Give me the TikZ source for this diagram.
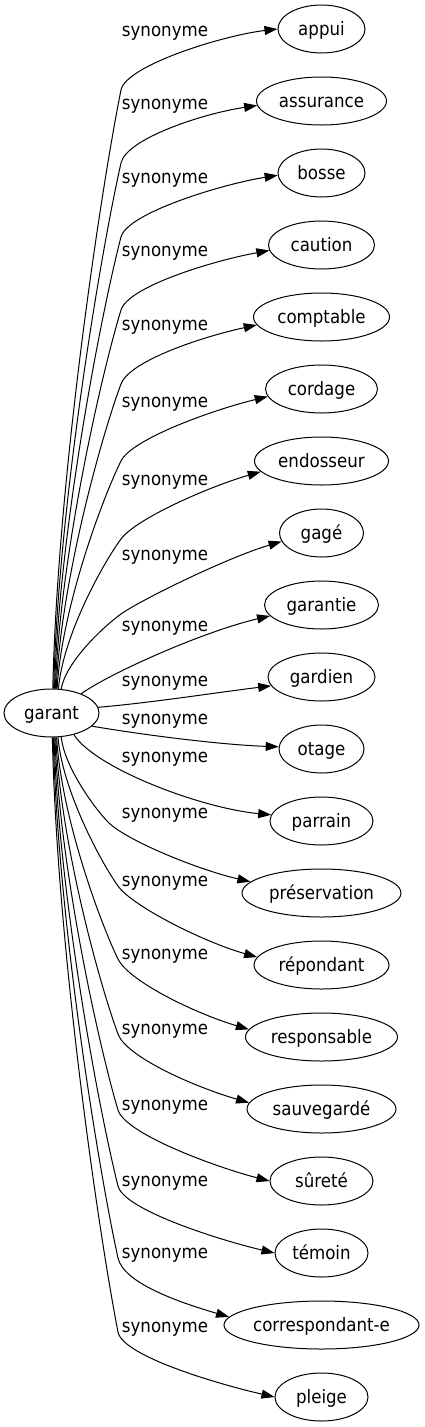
\documentclass[tikz,border=0pt]{standalone}
\usepackage{fontspec}
\setmainfont{DejaVu Sans}[FakeStretch=0.9]
\usetikzlibrary{arrows.meta,calc,shapes.geometric}
\begin{document}
\begin{tikzpicture}[x=1pt,y=1pt,
  every node/.style={font=\fontsize{18.5}{22}\selectfont},
  word/.style={draw=black, line width=1pt, ellipse, minimum height=48, inner sep=0pt, text height=14pt, text depth=2pt},
  lbl/.style={anchor=base, inner sep=0pt},
  edge/.style={draw=black, line width=1pt, -{Triangle[length=13pt,width=9pt]}}
]
\useasboundingbox[fill=white] (0,0) rectangle (424,-1427);
\node[word, minimum width=95] (garant) at (51.5,-713) {garant};
\foreach \nm/\tx/\w [count=\i from 0] in {
  appui/appui/87, assurance/assurance/130, bosse/bosse/87, caution/caution/106,
  comptable/comptable/136, cordage/cordage/112, endosseur/endosseur/134, gage/gagé/84,
  garantie/garantie/114, gardien/gardien/107, otage/otage/85, parrain/parrain/103,
  preservation/préservation/159, repondant/répondant/135, responsable/responsable/152,
  sauvegarde/sauvegardé/149, surete/sûreté/103, temoin/témoin/93,
  correspondante/correspondant-e/195, pleige/pleige/93}{
  \node[word, minimum width=\w] (\nm) at (321.5,{-29-72*\i}) {\tx};
}
\foreach \yy [count=\k] in {33,106,180,253,327,404,482,557,628,683,721,759,815,883,956,1031,1107,1183,1255,1329}{
  \node[lbl] (l\k) at (165,{-(\yy+3)}) {synonyme};
}
\foreach \nm/\sa/\ea/\bx/\by/\f/\sg in {
  appui/87/180/121/90/0.30/1,
  assurance/85/184/121/163/0.35/1,
  bosse/83/183/121/237/0.40/1,
  caution/81/186/121/310/0.45/1,
  comptable/79/187/121/384/0.50/1,
  cordage/77/188/121/461/0.55/1,
  endosseur/74/190/121/539/0.60/1,
  gage/68/192/121/614/0.65/1,
  preservation/292/171/108/822/0.55/-1,
  repondant/285/173/118/886/0.55/-1,
  responsable/282/174/118/959/0.55/-1,
  sauvegarde/280/175/118/1034/0.55/-1,
  surete/278/180/118/1110/0.55/-1,
  temoin/276/180/118/1186/0.55/-1,
  correspondante/274/175/118/1258/0.55/-1,
  pleige/272/180/118/1332/0.55/-1}{
  \draw[edge] let \p1=(garant.\sa), \p2=(\nm.\ea),
    \n1={\bx-\x1}, \n2={abs(-\by-\y1)},
    \n3={atan2((\sg)*0.17*\n2,0.3*\n1)},
    \n4={atan(\f*(\y2+\by)/(\x2-\bx))}
  in (garant.\sa) .. controls ({\x1+0.07*\n1},{\y1+(\sg)*0.35*\n2}) and ({\bx-0.3*\n1},{-\by-(\sg)*0.17*\n2}) .. (\bx,-\by)
     .. controls ({\bx+25*cos(\n3)},{-\by+25*sin(\n3)}) and ({\x2-55*cos(\n4)},{\y2-55*sin(\n4)}) .. (\nm.\ea);
}
\draw[edge] (garant.33) .. controls (112,-672) and (205,-631) .. (garantie.192);
\draw[edge] (garant.7) .. controls (150,-703) and (220,-692) .. (gardien.190);
\draw[edge] (garant.342) .. controls (150,-736) and (225,-745) .. (otage.177);
\draw[edge] (garant.316) .. controls (95,-768) and (200,-808) .. (parrain.173);
\end{tikzpicture}
\end{document}
